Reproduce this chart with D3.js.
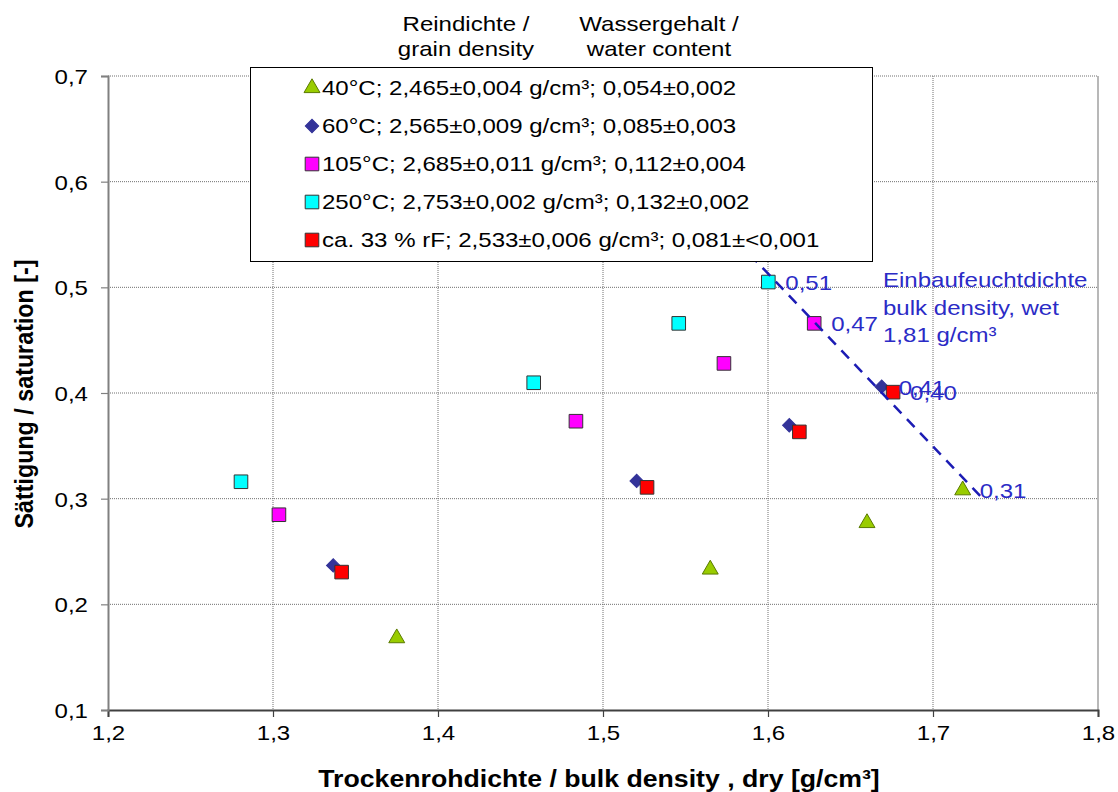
<!DOCTYPE html>
<html><head><meta charset="utf-8">
<script src="https://cdn.jsdelivr.net/npm/d3@7"></script>
<style>
body{margin:0;background:#fff;}
svg{display:block;font-family:"Liberation Sans",Arial,sans-serif;}
</style></head>
<body>
<svg id="chart" width="1118" height="792"></svg>
<script>
// ---- data ----
const seriesNames = ["40°C; 2,465±0,004 g/cm³; 0,054±0,002",
  "60°C; 2,565±0,009 g/cm³; 0,085±0,003",
  "105°C; 2,685±0,011 g/cm³; 0,112±0,004",
  "250°C; 2,753±0,002 g/cm³; 0,132±0,002",
  "ca. 33 % rF; 2,533±0,006 g/cm³; 0,081±<0,001"];
const x40  = [1.375, 1.565, 1.660, 1.718];
const y40  = [0.168, 0.233, 0.277, 0.308];
const x60  = [1.3365, 1.5204, 1.6129, 1.6689];
const y60  = [0.2368, 0.3168, 0.3695, 0.4059];
const x105 = [1.3036, 1.4836, 1.5733, 1.628];
const y105 = [0.2848, 0.3733, 0.428, 0.4659];
const x250 = [1.2806, 1.458, 1.5459, 1.6002];
const y250 = [0.316, 0.4097, 0.4659, 0.505];
const xrF  = [1.3416, 1.5267, 1.619, 1.6758];
const yrF  = [0.2305, 0.3107, 0.3632, 0.4008];
const pointLabels = ["0,31", "0,41", "0,47", "0,51", "0,40"];
const xTicks = [1.2, 1.3, 1.4, 1.5, 1.6, 1.7, 1.8];
const yTicks = [0.1, 0.2, 0.3, 0.4, 0.5, 0.6, 0.7];
const wetLineX = [1.557, 1.729];
const wetLineY = [0.5834, 0.302];
const wetLabel = ["Einbaufeuchtdichte", "bulk density, wet", "1,81 g/cm³"];
const headerGrain = ["Reindichte /", "grain density"];
const headerWater = ["Wassergehalt /", "water content"];

const styles = [
  {shape:"triangle", fill:"#99cc00", stroke:"#5a7a00"},
  {shape:"diamond", fill:"#333399", stroke:"#333399"},
  {shape:"square", fill:"#ff00ff", stroke:"#333333"},
  {shape:"square", fill:"#00ffff", stroke:"#333333"},
  {shape:"square", fill:"#ff0000", stroke:"#333333"}
];
const allX = [x40, x60, x105, x250, xrF];
const allY = [y40, y60, y105, y250, yrF];

const SX = 1.145; // horizontal stretch of the text in the reference
const FS = 21;
const BLUE = "#2b2bc6";

const svg = d3.select("#chart");
const x = d3.scaleLinear().domain([1.2, 1.8]).range([108, 1098]);
const y = d3.scaleLinear().domain([0.1, 0.7]).range([710, 76]);
const fmt = d => d3.format(".1f")(d).replace(".", ",");

function txt(parent, tx, ty, s, opts = {}) {
  const t = parent.append("text")
    .attr("transform", `translate(${tx},${ty}) scale(${SX},1)` + (opts.rotate ? ` rotate(${opts.rotate})` : ""))
    .attr("font-size", opts.size || FS)
    .attr("fill", opts.fill || "#000")
    .attr("text-anchor", opts.anchor || "start")
    .text(s);
  if (opts.bold) t.attr("font-weight", "bold");
  return t;
}

// gridlines
const g = svg.append("g");
g.selectAll(".vg").data(xTicks.filter(t => t > 1.2 && t < 1.8)).enter().append("line")
  .attr("x1", d => x(d)).attr("x2", d => x(d)).attr("y1", y(0.7)).attr("y2", y(0.1))
  .attr("stroke", "#707070").attr("stroke-width", 1).attr("stroke-dasharray", "1,1");
g.selectAll(".hg").data(yTicks.filter(t => t > 0.1)).enter().append("line")
  .attr("x1", x(1.2)).attr("x2", x(1.8)).attr("y1", d => y(d)).attr("y2", d => y(d))
  .attr("stroke", "#707070").attr("stroke-width", 1).attr("stroke-dasharray", "1,1");
g.append("line").attr("x1", x(1.8)).attr("x2", x(1.8)).attr("y1", y(0.7)).attr("y2", y(0.1))
  .attr("stroke", "#a0a0a0").attr("stroke-width", 1.5);

// axes
const xAxis = d3.axisBottom(x).tickValues(xTicks).tickFormat(fmt).tickSize(7);
const yAxis = d3.axisLeft(y).tickValues(yTicks).tickFormat(fmt).tickSize(7);
const gx = svg.append("g").attr("transform", `translate(0,${y(0.1)})`).call(xAxis);
const gy = svg.append("g").attr("transform", `translate(${x(1.2)},0)`).call(yAxis);
gx.select(".domain").attr("stroke", "#404040").attr("stroke-width", 2);
gx.selectAll(".tick line").attr("stroke", "#404040").attr("stroke-width", 1.2);
gy.select(".domain").attr("stroke", "#808080").attr("stroke-width", 2);
gy.selectAll(".tick line").attr("stroke", "#808080").attr("stroke-width", 1.2);
gx.selectAll(".tick text").attr("x", null).attr("y", null).attr("dy", null)
  .attr("transform", `translate(0,30) scale(${SX},1)`);
gy.selectAll(".tick text").attr("x", null).attr("y", null).attr("dy", "0.35em")
  .attr("transform", `translate(-20,0) scale(${SX},1)`);
[gx, gy].forEach(a => a.selectAll("text").attr("font-size", FS).attr("fill", "#000")
  .attr("font-family", "Liberation Sans, Arial, sans-serif"));

// axis titles
txt(svg, 599, 787, "Trockenrohdichte / bulk density , dry [g/cm³]", {size: 23.3, bold: true, anchor: "middle"});
txt(svg, 33, 394, "Sättigung / saturation [-]", {size: 23.3, bold: true, anchor: "middle", rotate: -90});

// symbols
function sym(shape) {
  if (shape === "triangle") return d3.symbol().type(d3.symbolTriangle).size(110)();
  if (shape === "diamond") return d3.symbol().type(d3.symbolSquare).size(90)();
  return d3.symbol().type(d3.symbolSquare).size(185)();
}
function rot(shape) { return shape === "diamond" ? " rotate(45)" : ""; }

allX.forEach((xs, i) => {
  const st = styles[i];
  const pts = xs.map((v, j) => ({x: v, y: allY[i][j]}));
  svg.append("g").selectAll("path").data(pts).enter().append("path")
    .attr("d", sym(st.shape))
    .attr("transform", d => `translate(${x(d.x)},${y(d.y)})` + rot(st.shape))
    .attr("fill", st.fill).attr("stroke", st.stroke).attr("stroke-width", 1);
});

// wet density line
svg.append("line")
  .attr("x1", x(wetLineX[0])).attr("y1", y(wetLineY[0]))
  .attr("x2", x(wetLineX[1])).attr("y2", y(wetLineY[1]))
  .attr("stroke", "#1c1cb4").attr("stroke-width", 2.5).attr("stroke-dasharray", "11,8");

// point labels (last point of each series)
allX.forEach((xs, i) => {
  const n = xs.length - 1;
  txt(svg, x(xs[n]) + 17, y(allY[i][n]) + 8, pointLabels[i], {fill: BLUE});
});

// wet annotation
wetLabel.forEach((s, i) => txt(svg, 883, 287 + i * 27.5, s, {fill: BLUE}));

// legend
const lg = svg.append("g");
lg.append("rect").attr("x", 250.5).attr("y", 67.5).attr("width", 622).attr("height", 194)
  .attr("fill", "#fff").attr("stroke", "#000").attr("stroke-width", 1);
seriesNames.forEach((name, i) => {
  const cy = 88 + i * 38;
  const st = styles[i];
  lg.append("path").attr("d", sym(st.shape))
    .attr("transform", `translate(312,${cy})` + rot(st.shape))
    .attr("fill", st.fill).attr("stroke", st.stroke).attr("stroke-width", 1);
  txt(lg, 322, cy + 7, name);
});

// header
headerGrain.forEach((s, i) => txt(svg, 466, 31 + i * 24.5, s, {anchor: "middle"}));
headerWater.forEach((s, i) => txt(svg, 659, 31 + i * 24.5, s, {anchor: "middle"}));
</script>
</body></html>
